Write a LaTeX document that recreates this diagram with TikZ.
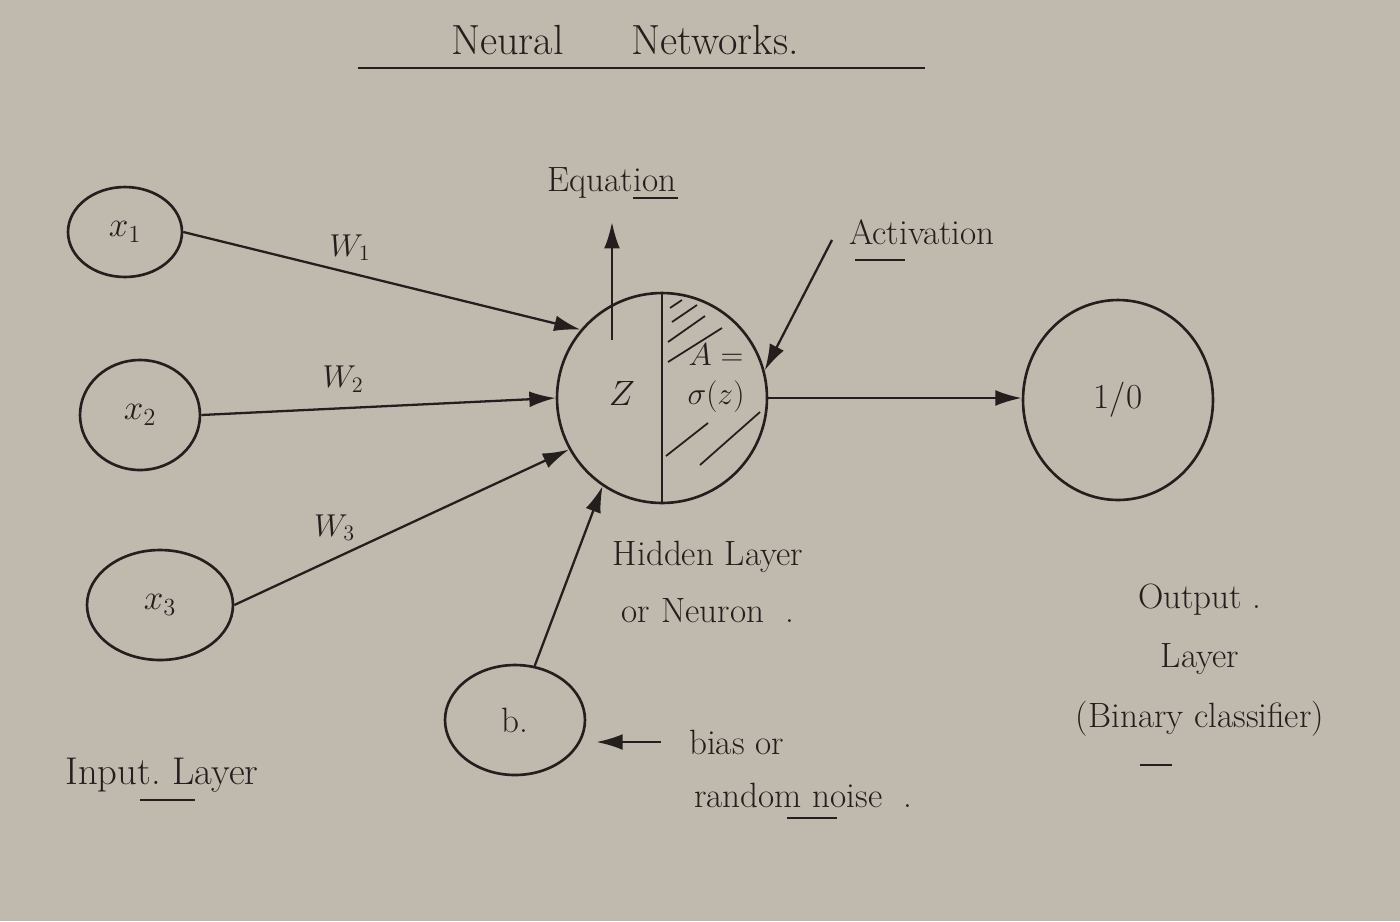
\documentclass[tikz,border=0pt]{standalone}
\usepackage{fix-cm}
\usepackage{amsmath}
\usetikzlibrary{shapes.geometric,arrows.meta,calc}
\definecolor{paper}{RGB}{192,185,174}
\definecolor{ink}{RGB}{36,30,30}

\tikzset{
  unit/.style={draw=ink, line width=1.5pt, ellipse, inner sep=0pt, text=ink,
    font=\fontsize{20}{24}\selectfont},
  wire/.style={draw=ink, line width=1.3pt, -{Latex[length=15pt,width=9pt]}},
  hand/.style={text=ink, font=\fontsize{20}{32}\selectfont},
  wlabel/.style={hand, font=\fontsize{18}{22}\selectfont},
  underl/.style={draw=ink, line width=1.4pt},
  hatch/.style={draw=ink, line width=1pt}
}

\begin{document}
\begin{tikzpicture}[x=0.02cm, y=-0.02cm]
  \fill[paper] (0,0) rectangle (1400,921);
  \useasboundingbox (0,0) rectangle (1400,921);

  % title
  \node[hand, font=\fontsize{24}{28}\selectfont] (title) at (625,40) {Neural\hspace{1.6em}Networks.};
  \draw[underl] (358,68) -- (925,68);

  % input layer
  \node[unit, minimum width=2.28cm, minimum height=1.8cm] (x1) at (125,232) {$x_1$};
  \node[unit, minimum width=2.4cm, minimum height=2.2cm] (x2) at (140,415) {$x_2$};
  \node[unit, minimum width=2.92cm, minimum height=2.2cm] (x3) at (160,605) {$x_3$};
  \node[hand, font=\fontsize{22}{28}\selectfont] (inlbl) at (162,775) {Input.\ Layer};
  \draw[underl] (140,800) -- (195,800);

  % hidden neuron
  \node[unit, circle, minimum size=4.2cm] (hid) at (662,398) {};
  \draw[draw=ink, line width=1.4pt] (hid.north) -- (hid.south);
  \node[hand] (z) at (622,393) {$Z$};
  \node[hand, align=center, font=\fontsize{18}{22}\selectfont] (sig) at (716,378) {$A=$\\$\sigma(z)$};
  \draw[hatch] (668,362) -- (722,328);
  \draw[hatch] (668,342) -- (705,316);
  \draw[hatch] (672,322) -- (697,305);
  \draw[hatch] (670,308) -- (682,300);
  \draw[hatch] (666,456) -- (708,423);
  \draw[hatch] (700,465) -- (760,412);
  \node[hand, align=center] (hidlbl) at (708,582) {Hidden Layer\\or Neuron\ \ .};

  % bias
  \node[unit, minimum width=2.8cm, minimum height=2.2cm] (b) at (515,720) {b.};
  \node[hand, anchor=west] (bias1) at (683,742) {bias or};
  \node[hand, anchor=west] (bias2) at (688,795) {random noise\ \ .};
  \draw[underl] (787,818) -- (837,818);

  % output layer
  \node[unit, minimum width=3.8cm, minimum height=4cm] (out) at (1118,400) {1/0};
  \node[hand, align=center, font=\fontsize{20}{34}\selectfont] (outlbl) at (1200,660) {Output .\\Layer\\(Binary classifier)};
  \draw[underl] (1140,765) -- (1172,765);

  % labels above
  \node[hand] (eq) at (612,183) {Equation};
  \draw[underl] (633,198) -- (678,198);
  \node[hand] (act) at (922,232) {Activation};
  \draw[underl] (855,260) -- (905,260);
  \coordinate (eqtail) at (612,340);
  \coordinate (acttail) at (832,240);

  % connections
  \draw[wire] (x1.east) -- (hid.140) node[wlabel, pos=0.42, above=3pt] {$W_1$};
  \draw[wire] (x2.east) -- (hid.west) node[wlabel, pos=0.4, above=5pt] {$W_2$};
  \draw[wire] (x3.east) -- (hid.209) node[wlabel, pos=0.3, above=6pt] {$W_3$};
  \draw[wire] (b.70) -- (hid.236);
  \draw[wire, shorten >=0.35cm] (eqtail) -- (eq.south);
  \draw[wire] (acttail) -- (hid.15);
  \draw[wire] (hid.east) -- (hid.east -| out.west);
  \draw[wire, shorten <=0.45cm, shorten >=0.2cm] (bias1.west) -- (bias1.west -| b.east);
\end{tikzpicture}
\end{document}
